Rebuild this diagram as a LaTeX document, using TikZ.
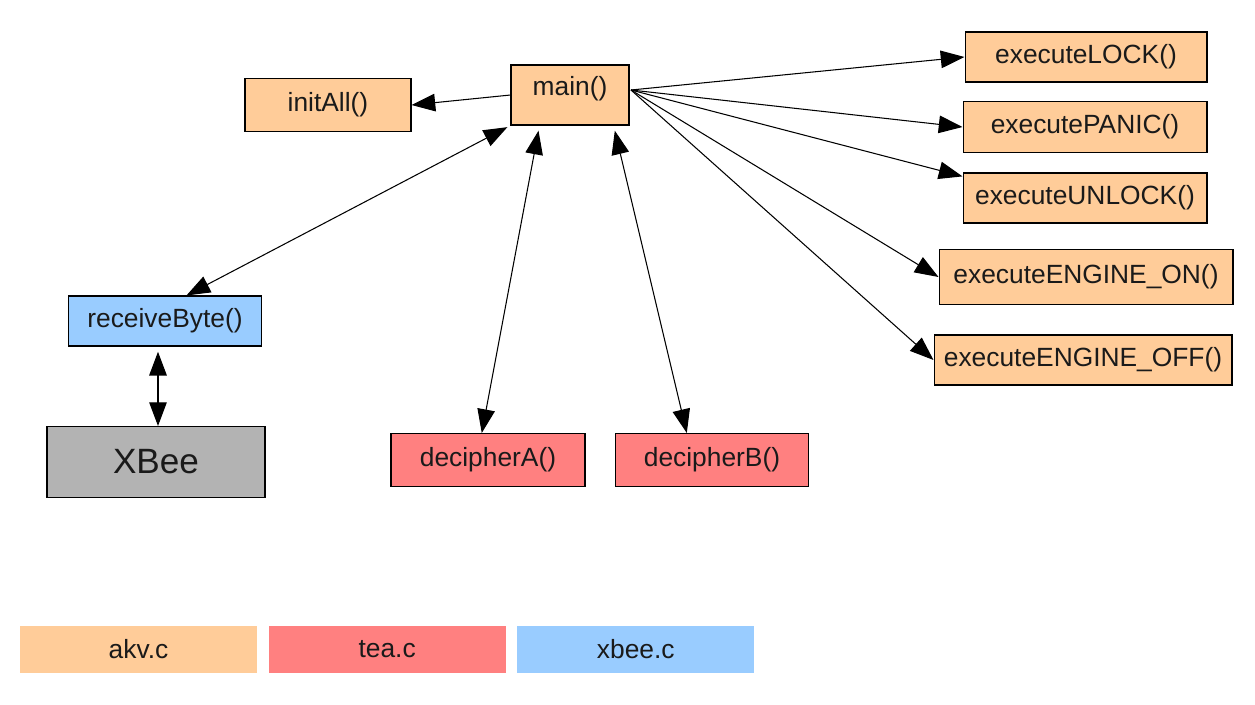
\documentclass[tikz,border=0pt]{standalone}
\usepackage{fontspec}
\setmainfont{Liberation Sans}
\usetikzlibrary{arrows.meta,positioning}
\definecolor{akvorange}{HTML}{FFCC99}
\definecolor{teared}{HTML}{FF8080}
\definecolor{xbeeblue}{HTML}{99CCFF}
\definecolor{xbeegray}{HTML}{B3B3B3}
\definecolor{inkdark}{HTML}{1A1A1A}

\begin{document}
\begin{tikzpicture}[x=0.02cm, y=-0.02cm,
  fn/.style={draw=black, line width=0.6pt, inner sep=2pt, text=inkdark,
    font=\fontsize{15}{18}\selectfont},
  legend/.style={inner sep=0pt, text=inkdark, minimum width=4.74cm,
    minimum height=0.94cm, font=\fontsize{15}{18}\selectfont},
  call/.style={line width=0.6pt, -{Triangle[length=13.5pt,width=10pt]}},
  both/.style={line width=0.6pt, {Triangle[length=13.5pt,width=10pt]}-{Triangle[length=13.5pt,width=10pt]}}]
  \useasboundingbox (0,0) rectangle (1255,704);
  % akv.c functions
  \node[fn, fill=akvorange, minimum width=2.36cm, minimum height=1.2cm, text depth=10pt] (main) at (570,95) {main()};
  \node[fn, fill=akvorange, minimum width=3.32cm, minimum height=1.06cm] (init) at (328,105) {initAll()};
  \node[fn, fill=akvorange, minimum width=4.84cm, minimum height=1.0cm] (lock) at (1086,57) {executeLOCK()};
  \node[fn, fill=akvorange, minimum width=4.88cm, minimum height=1.02cm] (panic) at (1085,127) {executePANIC()};
  \node[fn, fill=akvorange, minimum width=4.88cm, minimum height=1.0cm] (unlock) at (1085,198) {executeUNLOCK()};
  \node[fn, fill=akvorange, minimum width=5.88cm, minimum height=1.1cm] (engon) at (1086,277) {executeENGINE\_ON()};
  \node[fn, fill=akvorange, minimum width=5.96cm, minimum height=1.0cm] (engoff) at (1083,360) {executeENGINE\_OFF()};
  % xbee.c and the module
  \node[fn, fill=xbeeblue, minimum width=3.86cm, minimum height=1.0cm] (recv) at (165,321) {receiveByte()};
  \node[fn, fill=xbeegray, minimum width=4.36cm, minimum height=1.42cm,
    font=\fontsize{20}{24}\selectfont] (xbee) at (156,462) {XBee};
  % tea.c functions
  \node[fn, fill=teared, minimum width=3.88cm, minimum height=1.06cm] (decA) at (488,460) {decipherA()};
  \node[fn, fill=teared, minimum width=3.86cm, minimum height=1.06cm] (decB) at (712,460) {decipherB()};
  % Calls
  \coordinate (hub) at (631,90);
  \draw[call] (main.west) -- (init.east);
  \draw[call] (hub) -- (lock.west);
  \draw[call] (hub) -- (panic.west);
  \draw[call] (hub) -- (unlock.170);
  \draw[call] (hub) -- (engon.west);
  \draw[call] (hub) -- (engoff.west);
  \draw[both, shorten <=2pt] (main.south west) -- (recv.50);
  \draw[both, shorten <=3pt] (main.225) -- (decA.103);
  \draw[both, shorten <=3pt] (main.325) -- (decB.133);
  \draw[both, shorten <=3pt] ([xshift=-0.14cm]recv.south) -- ([xshift=-0.14cm]recv.south |- xbee.north);
  % Legend
  \node[legend, fill=akvorange] (kakv) at (138.5,649.5) {akv.c};
  \node[legend, fill=teared, right=0.22cm of kakv] (ktea) {tea.c};
  \node[legend, fill=xbeeblue, right=0.22cm of ktea] (kxbee) {xbee.c};
\end{tikzpicture}
\end{document}
